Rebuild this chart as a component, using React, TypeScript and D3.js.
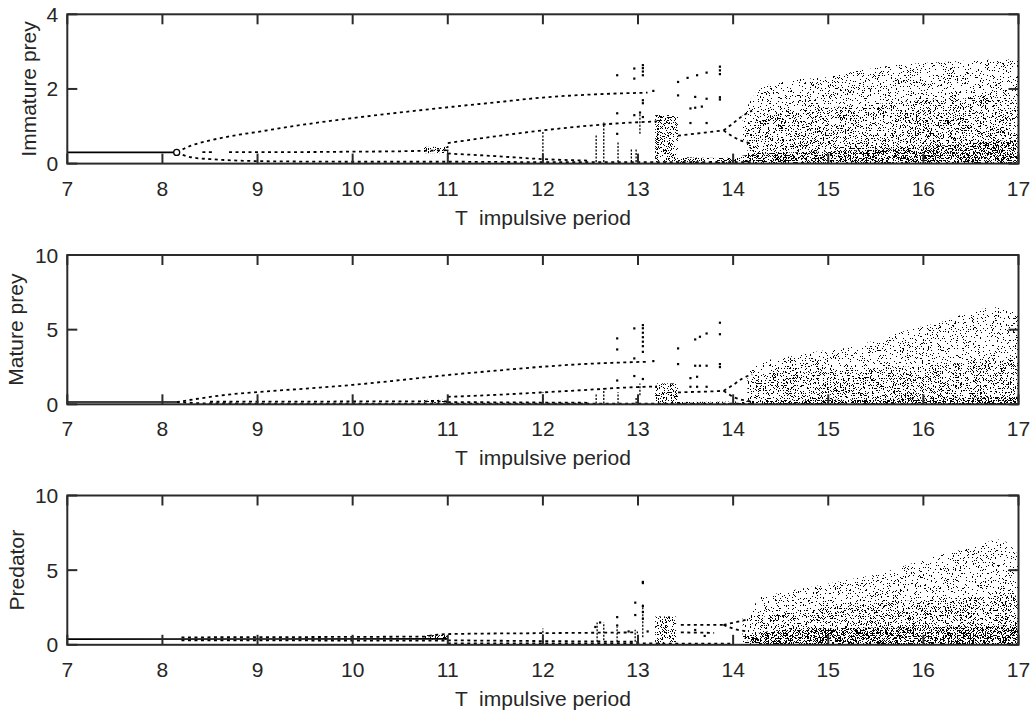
import React from 'react';
import * as d3 from 'd3';

type P = [number, number];
type Band = [number, number, number];

// ---------- axis / tick data ----------
const xTicks = [7, 8, 9, 10, 11, 12, 13, 14, 15, 16, 17];
const immatureTicks = [0, 2, 4];
const matureTicks = [0, 5, 10];
const predatorTicks = [0, 5, 10];

// ---------- Immature prey ----------
const imStable: P[] = [[7, 0.3], [8.15, 0.3]];
const imUpper: P[] = [[8.15, 0.3], [8.3, 0.48], [8.5, 0.62], [8.75, 0.75], [9, 0.85], [9.5, 1.05], [10, 1.22], [10.5, 1.37], [11, 1.51], [11.5, 1.64], [12, 1.77], [12.5, 1.85], [13.1, 1.9]];
const imLower: P[] = [[8.15, 0.3], [8.3, 0.17], [8.5, 0.12], [8.8, 0.08], [9.2, 0.06], [10, 0.05], [11, 0.05], [12, 0.04], [13, 0.04], [14.2, 0.04]];
const imMid: P[] = [[8.7, 0.31], [9.5, 0.31], [10, 0.32], [10.5, 0.33], [11, 0.36]];
const imMidShort: P[] = [[8.42, 0.31], [8.52, 0.31]];
const imMidUp: P[] = [[11, 0.55], [11.5, 0.73], [12, 0.89], [12.5, 1.02], [12.8, 1.08], [13.2, 1.13]];
const imMidLow: P[] = [[11, 0.27], [11.5, 0.2], [12, 0.12], [12.5, 0.08]];
const imLateRow: P[] = [[13.42, 0.75], [13.6, 0.8], [13.8, 0.86], [13.9, 0.89]];
const imTongueUp: P[] = [[13.9, 0.89], [14.0, 1.08], [14.1, 1.28], [14.2, 1.42]];
const imTongueLow: P[] = [[13.9, 0.89], [14.0, 0.72], [14.1, 0.6], [14.2, 0.53]];
const imScatter: P[] = [[12.78, 2.37], [12.96, 2.55], [12.96, 2.28], [13.05, 2.64], [13.05, 2.56], [13.05, 2.47], [13.05, 2.37], [13.16, 1.95], [13.05, 1.7], [13.05, 1.62], [12.96, 1.3], [13.05, 1.25], [12.78, 1.35], [12.78, 0.8], [13.42, 2.19], [13.52, 2.3], [13.62, 2.37], [13.72, 2.44], [13.86, 2.6], [13.86, 2.5], [13.86, 2.4], [13.42, 1.83], [13.6, 1.79], [13.72, 1.74], [13.86, 1.78], [13.86, 1.72], [13.55, 1.48], [13.6, 1.5], [13.67, 1.53], [13.55, 1.09], [13.72, 1.09], [13.02, 1.37]];
const imStreaks: Band[] = [[11.0, 0.04, 0.5], [12.0, 0.04, 0.89], [12.56, 0.04, 0.76], [12.64, 0.04, 1.1], [12.79, 0.04, 0.6], [12.93, 0.04, 0.4], [12.98, 0.04, 0.4], [13.02, 0.8, 1.37]];
const imBlocks: [number, number, number, number][] = [[13.18, 13.42, 0.04, 1.3], [10.75, 11.0, 0.28, 0.45]];
const imChaos: Band[] = [[14.1, 0.55, 1.3], [14.2, 0.35, 1.75], [14.28, 0.05, 2.01], [14.45, 0, 2.15], [14.6, 0, 2.24], [15.0, 0, 2.32], [15.26, 0, 2.46], [15.72, 0, 2.64], [16.25, 0, 2.73], [16.8, 0, 2.79], [17, 0, 2.78]];
const imMedium: P[] = [[14.15, 1.1], [14.5, 1.4], [15, 1.5], [15.5, 1.6], [16, 1.7], [17, 1.8]];
const imDense: P[] = [[13.42, 0.18], [13.9, 0.15], [14.2, 0.25], [15, 0.33], [15.5, 0.38], [16, 0.45], [16.5, 0.55], [17, 0.65]];
const imMarker: P = [8.15, 0.3];

// ---------- Mature prey ----------
const mpStable: P[] = [[7, 0.15], [8.15, 0.15]];
const mpUpper: P[] = [[8.15, 0.15], [8.4, 0.4], [8.75, 0.69], [9, 0.82], [9.5, 1.05], [10, 1.3], [10.5, 1.62], [11, 1.96], [11.5, 2.25], [12, 2.52], [12.5, 2.72], [13.1, 2.85]];
const mpLower: P[] = [[8.15, 0.15], [8.5, 0.06], [9, 0.05], [14.2, 0.05]];
const mpMid: P[] = [[8.5, 0.17], [11, 0.2]];
const mpMidUp: P[] = [[11, 0.5], [11.5, 0.63], [12, 0.8], [12.5, 0.98], [12.8, 1.1], [13.2, 1.2]];
const mpMidLow: P[] = [[11, 0.15], [12.5, 0.1]];
const mpLateRow: P[] = [[13.42, 0.8], [13.7, 0.85], [13.9, 0.9]];
const mpTongueUp: P[] = [[13.9, 0.9], [14.0, 1.3], [14.1, 1.74], [14.2, 2.0]];
const mpTongueLow: P[] = [[13.9, 0.9], [14.0, 0.5], [14.1, 0.29], [14.2, 0.2]];
const mpScatter: P[] = [[12.78, 4.42], [12.78, 3.68], [12.96, 5.09], [13.05, 5.31], [13.05, 5.1], [13.05, 4.8], [13.05, 4.5], [13.05, 4.2], [13.05, 3.9], [13.05, 3.52], [12.96, 3.08], [13.16, 2.9], [12.78, 1.6], [12.96, 1.9], [13.05, 1.7], [13.42, 3.75], [13.42, 2.7], [13.6, 4.35], [13.65, 4.53], [13.72, 4.75], [13.86, 5.47], [13.86, 4.7], [13.6, 2.59], [13.65, 2.59], [13.72, 2.59], [13.86, 2.7], [13.86, 2.5], [13.55, 1.76], [13.62, 1.85], [13.55, 1.18], [13.62, 1.18], [13.72, 1.18]];
const mpStreaks: Band[] = [[12.0, 0.05, 0.8], [12.56, 0.05, 0.75], [12.64, 0.05, 1.1], [12.79, 0.05, 0.8], [12.98, 0.05, 0.5], [13.02, 0.6, 1.4]];
const mpBlocks: [number, number, number, number][] = [[13.18, 13.42, 0, 1.4], [10.75, 11.0, 0.1, 0.3]];
const mpChaos: Band[] = [[14.15, 0.3, 2.0], [14.28, 0.05, 2.8], [14.6, 0, 3.2], [14.95, 0, 3.6], [15.26, 0, 3.86], [15.55, 0, 4.4], [15.9, 0, 5.1], [16.18, 0, 5.5], [16.5, 0, 6.2], [16.75, 0, 6.5], [16.94, 0, 6.3], [17, 0, 6.2]];
const mpMedium: P[] = [[14.15, 1.6], [14.4, 2.1], [15, 2.2], [15.5, 2.4], [16, 2.6], [16.5, 2.8], [17, 3.0]];
const mpDense: P[] = [[13.42, 0.15], [14.2, 0.2], [15, 0.3], [16, 0.4], [17, 0.5]];

// ---------- Predator ----------
const prStable: P[] = [[7, 0.38], [11, 0.4]];
const prBandUp: P[] = [[8.2, 0.5], [9.5, 0.52], [10.8, 0.55]];
const prBandLow: P[] = [[8.2, 0.3], [9.5, 0.29], [11, 0.28]];
const prUpper: P[] = [[10.8, 0.6], [11, 0.72], [12, 0.78], [12.8, 0.82], [13.0, 0.83]];
const prLow: P[] = [[11, 0.3], [12, 0.25], [13, 0.2]];
const prBottom: P[] = [[11, 0.1], [14, 0.08]];
const prLateUp: P[] = [[13.45, 1.33], [13.9, 1.33]];
const prLateLow: P[] = [[13.45, 0.83], [13.8, 0.8]];
const prTongueUp: P[] = [[13.9, 1.33], [14.05, 1.55], [14.15, 1.7]];
const prTongueLow: P[] = [[13.9, 1.33], [14.05, 1.0], [14.15, 0.9]];
const prScatter: P[] = [[12.78, 1.86], [12.78, 1.3], [12.97, 2.83], [12.97, 2.0], [13.05, 4.14], [13.05, 4.22], [13.05, 2.6], [13.05, 2.2], [13.05, 1.76], [12.6, 1.5], [12.55, 1.2], [12.9, 0.9], [13.1, 0.9], [13.6, 1.0], [13.7, 0.6]];
const prStreaks: Band[] = [[12.0, 0.1, 1.1], [12.57, 0.2, 1.5], [12.64, 0.3, 1.5], [12.78, 0.2, 1.2], [12.97, 0.2, 1.0], [13.05, 0.5, 2.7]];
const prBlocks: [number, number, number, number][] = [[13.18, 13.4, 0, 1.9], [10.75, 11.0, 0.35, 0.65]];
const prChaos: Band[] = [[14.1, 0.5, 1.9], [14.18, 0.2, 1.93], [14.26, 0, 3.1], [14.49, 0, 3.48], [14.84, 0, 3.9], [15.2, 0, 4.36], [15.55, 0, 4.8], [15.9, 0, 5.5], [16.25, 0, 6.15], [16.53, 0, 6.57], [16.8, 0, 7.06], [17, 0, 6.0]];
const prMedium: P[] = [[14.2, 1.6], [14.5, 2.2], [15, 2.5], [15.5, 2.8], [16, 3.0], [17, 3.3]];
const prDense: P[] = [[14.1, 0.6], [14.5, 1.0], [15, 1.1], [16, 1.2], [17, 1.3]];

interface PanelCfg {
  label: string;
  labelX: number;
  yMax: number;
  yTicks: number[];
  solid: P[][];
  dashed: P[][];
  scatter: P[];
  streaks: Band[];
  blocks: [number, number, number, number][];
  chaos: Band[];
  medium: P[];
  dense: P[];
  marker?: P;
}

const panels: PanelCfg[] = [
  { label: 'Immature prey', labelX: 36, yMax: 4, yTicks: immatureTicks, solid: [imStable],
    dashed: [imUpper, imLower, imMid, imMidShort, imMidUp, imMidLow, imLateRow, imTongueUp, imTongueLow],
    scatter: imScatter, streaks: imStreaks, blocks: imBlocks, chaos: imChaos, medium: imMedium, dense: imDense, marker: imMarker },
  { label: 'Mature prey', labelX: 23, yMax: 10, yTicks: matureTicks, solid: [mpStable],
    dashed: [mpUpper, mpLower, mpMid, mpMidUp, mpMidLow, mpLateRow, mpTongueUp, mpTongueLow],
    scatter: mpScatter, streaks: mpStreaks, blocks: mpBlocks, chaos: mpChaos, medium: mpMedium, dense: mpDense },
  { label: 'Predator', labelX: 24, yMax: 10, yTicks: predatorTicks, solid: [prStable],
    dashed: [prBandUp, prBandLow, prUpper, prLow, prBottom, prLateUp, prLateLow, prTongueUp, prTongueLow],
    scatter: prScatter, streaks: prStreaks, blocks: prBlocks, chaos: prChaos, medium: prMedium, dense: prDense },
];

const W = 1033;
const H = 714;
const L = 67.3;
const R = 1018.5;
const PH = 149.3;
const tops = [14.3, 255, 495.5];
const FONT = '"Liberation Sans", Arial, sans-serif';
const AX = '#2b2b2b';

function Speckle({ id, seed, threshold, freq }: { id: string; seed: number; threshold: number; freq: number }) {
  const n = 200;
  const table = Array.from({ length: n }, (_, i) => (i / n >= threshold ? 1 : 0)).join(' ');
  return (
    <filter id={id} x="-5%" y="-5%" width="110%" height="110%" colorInterpolationFilters="sRGB">
      <feTurbulence type="fractalNoise" baseFrequency={freq} numOctaves={2} seed={seed} result="noise" />
      <feColorMatrix in="noise" type="matrix" values="0 0 0 0 0  0 0 0 0 0  0 0 0 0 0  1 0 0 0 0" result="alpha" />
      <feComponentTransfer in="alpha" result="thr">
        <feFuncA type="discrete" tableValues={table} />
      </feComponentTransfer>
      <feComposite in="SourceGraphic" in2="thr" operator="in" />
    </filter>
  );
}

function Panel({ cfg, idx }: { cfg: PanelCfg; idx: number }) {
  const top = tops[idx];
  const bottom = top + PH;
  const x = d3.scaleLinear().domain([7, 17]).range([L, R]);
  const y = d3.scaleLinear().domain([0, cfg.yMax]).range([bottom, top]);
  const line = d3.line<P>().x(d => x(d[0])).y(d => y(d[1])).curve(d3.curveMonotoneX);
  const chaosArea = d3.area<Band>().x(d => x(d[0])).y0(d => y(d[1])).y1(d => y(d[2])).curve(d3.curveMonotoneX);
  const lowArea = d3.area<P>().x(d => x(d[0])).y0(() => y(0)).y1(d => y(d[1])).curve(d3.curveMonotoneX);
  const clipId = `clip${idx}`;
  return (
    <g>
      <defs>
        <clipPath id={clipId}>
          <rect x={L} y={top} width={R - L} height={PH} />
        </clipPath>
      </defs>
      <g clipPath={`url(#${clipId})`}>
        <path d={chaosArea(cfg.chaos) || ''} fill="#000" filter="url(#spSparse)" />
        <path d={lowArea(cfg.medium) || ''} fill="#000" filter="url(#spMedium)" />
        <path d={lowArea(cfg.dense) || ''} fill="#000" filter="url(#spDense)" />
        {cfg.blocks.map((b, i) => (
          <rect key={`b${i}`} x={x(b[0])} y={y(b[3])} width={x(b[1]) - x(b[0])} height={y(b[2]) - y(b[3])} fill="#000" filter="url(#spBlock)" />
        ))}
        {cfg.streaks.map((s, i) => (
          <line key={`s${i}`} x1={x(s[0])} x2={x(s[0])} y1={y(s[1])} y2={y(s[2])} stroke="#000" strokeWidth={1.3} strokeDasharray="2 1.5" />
        ))}
        {cfg.solid.map((p, i) => (
          <path key={`l${i}`} d={line(p) || ''} fill="none" stroke="#000" strokeWidth={1.6} />
        ))}
        {cfg.dashed.map((p, i) => (
          <path key={`d${i}`} d={line(p) || ''} fill="none" stroke="#000" strokeWidth={1.8} strokeDasharray="3 3.5" />
        ))}
        {cfg.scatter.map((p, i) => (
          <rect key={`p${i}`} x={x(p[0]) - 1} y={y(p[1]) - 1} width={2.2} height={2.2} fill="#000" />
        ))}
        {cfg.marker && (
          <circle cx={x(cfg.marker[0])} cy={y(cfg.marker[1])} r={3} fill="#fff" stroke="#000" strokeWidth={1.3} />
        )}
      </g>
      <rect x={L} y={top} width={R - L} height={PH} fill="none" stroke={AX} strokeWidth={2} />
      {xTicks.map(t => (
        <g key={`xt${t}`}>
          <line x1={x(t)} x2={x(t)} y1={bottom} y2={bottom - 10} stroke={AX} strokeWidth={2} />
          <line x1={x(t)} x2={x(t)} y1={top} y2={top + 10} stroke={AX} strokeWidth={2} />
          <text x={x(t)} y={bottom + 32} textAnchor="middle" fontFamily={FONT} fontSize={21} fill="#262626">{t}</text>
        </g>
      ))}
      {cfg.yTicks.map(t => (
        <g key={`yt${t}`}>
          <line x1={L} x2={L + 10} y1={y(t)} y2={y(t)} stroke={AX} strokeWidth={2} />
          <line x1={R} x2={R - 10} y1={y(t)} y2={y(t)} stroke={AX} strokeWidth={2} />
          <text x={L - 9} y={y(t) + 7.5} textAnchor="end" fontFamily={FONT} fontSize={21} fill="#262626">{t}</text>
        </g>
      ))}
      <text x={(L + R) / 2} y={bottom + 61} textAnchor="middle" fontFamily={FONT} fontSize={21} fill="#262626" style={{ whiteSpace: 'pre' }}>
        {'T  impulsive period'}
      </text>
      <text transform={`translate(${cfg.labelX},${(top + bottom) / 2}) rotate(-90)`} textAnchor="middle" fontFamily={FONT} fontSize={21} fill="#262626">
        {cfg.label}
      </text>
    </g>
  );
}

export default function App() {
  return (
    <svg width={W} height={H} style={{ position: 'absolute', left: 0, top: 0, background: '#fff' }}>
      <defs>
        <Speckle id="spSparse" seed={3} threshold={0.655} freq={1.4} />
        <Speckle id="spMedium" seed={11} threshold={0.655} freq={1.4} />
        <Speckle id="spDense" seed={23} threshold={0.57} freq={1.4} />
        <Speckle id="spBlock" seed={31} threshold={0.58} freq={1.4} />
      </defs>
      <rect x={0} y={0} width={W} height={H} fill="#fff" />
      {panels.map((p, i) => <Panel key={i} cfg={p} idx={i} />)}
    </svg>
  );
}
